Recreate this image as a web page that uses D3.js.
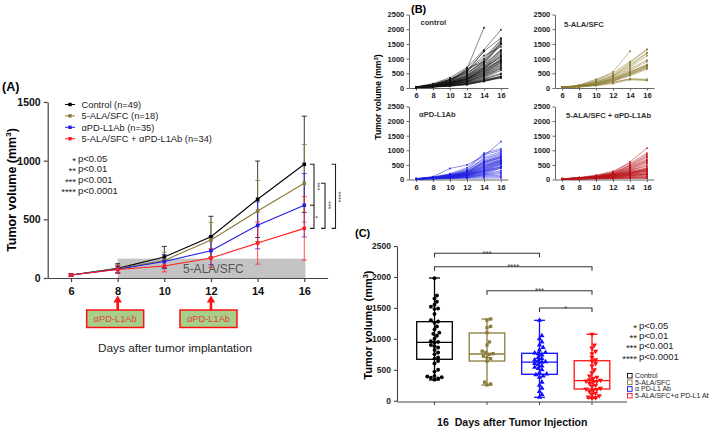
<!DOCTYPE html>
<html><head><meta charset="utf-8">
<script src="https://cdn.jsdelivr.net/npm/d3@7"></script>
<style>body{margin:0;background:#fff} svg{display:block} text{font-family:"Liberation Sans",Arial,sans-serif}</style>
</head><body><svg id="c" width="709" height="428"></svg>
<script>
// ---------------- DATA ----------------
const days = [6, 8, 10, 12, 14, 16];
const legendA = ["Control (n=49)", "5-ALA/SFC (n=18)", "αPD-L1Ab (n=35)", "5-ALA/SFC + αPD-L1Ab (n=34)"];
const meanControl = [25, 82, 179, 352, 671, 969];
const sdControl   = [12, 40, 90, 174, 326, 410];
const meanALA     = [25, 78, 150, 324, 571, 807];
const sdALA       = [10, 35, 70, 150, 260, 330];
const meanPDL1    = [25, 74, 140, 233, 449, 620];
const sdPDL1      = [10, 30, 60, 120, 200, 270];
const meanCombo   = [25, 72, 102, 170, 298, 423];
const sdCombo     = [10, 30, 50, 80, 180, 270];
const pLegend = [["*", "p<0.05"], ["**", "p<0.01"], ["***", "p<0.001"], ["****", "p<0.0001"]];
const yTicksA = [0, 500, 1000, 1500];
const yTicksB = [0, 500, 1000, 1500, 2000, 2500];
const yTicksC = [0, 500, 1000, 1500, 2000, 2500];
const panelBTitles = ["control", "5-ALA/SFC", "αPD-L1Ab", "5-ALA/SFC + αPD-L1Ab"];
const groupsC = ["Control", "5-ALA/SFC", "α PD-L1 Ab", "5-ALA/SFC+α PD-L1 Ab"];

// individual mice, values at days 6..16 (null = no measurement)
const miceControl = [
 [30,120,300,650,2050,null],[40,150,350,700,1300,1980],[30,100,250,550,1250,1700],[20,90,280,600,1000,1650],
 [30,110,260,500,950,1600],[25,80,220,480,900,1550],[35,130,300,520,880,1520],[20,70,200,420,850,1490],
 [30,90,240,450,820,1480],[25,100,210,400,800,1300],[20,60,180,380,760,1280],[30,80,190,420,720,1260],
 [25,70,160,350,700,1200],[20,90,200,380,680,1150],[30,60,170,330,650,1100],[15,80,150,300,640,1080],
 [25,70,180,340,600,1000],[20,50,140,300,620,960],[30,90,160,320,580,950],[20,60,130,280,560,940],
 [25,70,150,290,540,900],[15,50,120,260,520,880],[30,80,170,300,500,860],[20,60,140,250,480,820],
 [25,70,130,240,460,780],[20,50,110,220,440,750],[30,60,120,230,420,700],[15,40,100,200,400,680],
 [20,60,110,210,380,640],[25,50,90,180,350,600],[20,40,100,190,320,500],[15,50,80,160,300,470],
 [20,40,90,150,260,400],[25,50,70,140,280,390],[15,30,80,130,250,380],[20,40,70,120,220,370],
 [10,30,60,110,240,360],[20,40,80,150,230,340],[30,100,260,600,1250,null],[20,80,200,650,900,null],
 [25,120,280,560,1100,1400],[20,70,160,310,700,1050]
];
const miceALA = [
 [20,80,250,550,1250,null],[30,100,300,500,900,1320],[20,90,250,450,850,1300],[25,70,200,400,800,1200],
 [20,60,180,420,750,1180],[30,80,220,380,700,1100],[15,50,150,350,650,950],[20,70,170,330,600,900],
 [25,60,140,300,560,800],[20,50,160,320,540,780],[15,60,130,280,520,760],[20,40,120,260,500,750],
 [25,70,150,300,480,720],[20,50,110,240,460,700],[15,40,100,220,440,680],[20,60,120,250,420,640],
 [20,50,100,200,300,300],[15,40,90,180,320,270],[20,30,80,150,280,254]
];
const micePDL1 = [
 [30,100,380,500,800,1300],[20,80,200,400,900,1050],[25,90,180,350,850,1000],[20,70,150,300,750,950],
 [30,60,170,320,700,900],[15,80,160,280,650,860],[20,50,140,260,600,820],[25,70,130,250,620,780],
 [20,60,120,240,580,770],[15,50,150,230,560,760],[20,70,110,220,540,740],[25,60,130,250,500,700],
 [20,50,100,210,480,680],[15,40,120,200,460,660],[20,60,110,190,440,640],[25,50,100,220,420,630],
 [20,40,90,180,400,620],[15,50,100,170,380,600],[20,60,80,160,360,580],[25,40,90,180,340,560],
 [20,50,70,150,320,540],[15,40,80,160,300,520],[20,30,90,140,280,500],[25,50,70,130,260,450],
 [20,40,60,150,300,430],[15,30,70,120,250,420],[20,40,80,130,220,400],[25,50,60,110,200,380],
 [20,30,50,100,180,300],[15,40,60,90,160,250],[20,30,50,80,150,200],[10,20,40,70,120,150],
 [15,30,40,60,90,100],[10,20,30,40,50,55]
];
const miceCombo = [
 [20,60,130,250,600,1073],[25,70,150,280,550,900],[20,50,120,230,500,850],[15,60,110,220,480,800],
 [20,40,100,200,450,760],[25,50,120,210,420,700],[20,60,90,180,400,660],[15,40,100,190,380,640],
 [20,50,80,170,350,600],[25,40,90,160,330,560],[20,30,100,180,300,500],[15,50,80,150,320,450],
 [20,40,70,140,280,400],[25,30,90,160,260,380],[20,50,80,130,250,360],[15,40,70,150,240,340],
 [20,30,60,120,230,330],[25,40,80,140,220,320],[20,50,70,110,210,310],[15,30,60,130,200,300],
 [20,40,50,100,190,280],[25,30,70,120,180,250],[20,40,60,90,170,230],[15,30,50,100,160,200],
 [20,40,60,80,150,190],[10,30,50,90,140,180],[20,20,40,70,130,170],[15,30,50,80,120,150],
 [10,20,40,60,100,120],[15,30,30,50,90,100],[10,20,30,40,70,80],[15,20,40,50,60,60],
 [10,20,30,30,50,50],[10,10,20,30,40,39]
];
// box statistics at day 16: [min, q1, median, q3, max]
const boxControl = [335, 669, 944, 1277, 1983];
const boxALA     = [254, 641, 755, 1094, 1320];
const boxPDL1    = [55, 427, 625, 766, 1299];
const boxCombo   = [39, 189, 323, 646, 1073];
// significance comparisons [from group index, to group index, label]
const sigC = [[0, 2, "***"], [0, 3, "****"], [1, 3, "***"], [2, 3, "*"]];

// ---------------- STYLE ----------------
const colA = ["#000000", "#8b7b3b", "#1f1fe8", "#ff1f1f"];
const colB = ["#111111", "#8a7a2e", "#2020dd", "#b8141c"];
const colC = ["#000000", "#8b7b3b", "#1010ff", "#ff1010"];
const svg = d3.select("#c");
const fmt = d3.format("d");

// ================= PANEL A =================
const A = svg.append("g");
const xA = d3.scaleLinear().domain([5, 17]).range([47.7, 327.6]);
const yA = d3.scaleLinear().domain([0, 1500]).range([278, 102]);
const means = [meanControl, meanALA, meanPDL1, meanCombo];
const sds = [sdControl, sdALA, sdPDL1, sdCombo];

A.append("text").attr("x", 2).attr("y", 91).attr("font-size", 12.5).attr("font-weight", "bold").text("(A)");

// grey treatment band
A.append("rect").attr("x", xA(8)).attr("y", yA(165)).attr("width", xA(16.05) - xA(8))
 .attr("height", yA(0) - yA(165)).attr("fill", "#c3c3c3");
A.append("text").attr("x", xA(12.1)).attr("y", 273).attr("text-anchor", "middle")
 .attr("font-size", 12).attr("fill", "#555").text("5-ALA/SFC");

// axes
const axA = A.append("g").attr("transform", "translate(0,278)")
 .call(d3.axisBottom(xA).tickValues(days).tickSize(4).tickSizeOuter(0).tickFormat(fmt));
axA.selectAll("text").attr("font-size", 11).attr("font-weight", "bold").attr("dy", "0.95em").attr("fill", "#111");
const ayA = A.append("g").attr("transform", "translate(47.7,0)")
 .call(d3.axisLeft(yA).tickValues(yTicksA).tickSize(4).tickSizeOuter(0).tickFormat(fmt));
ayA.selectAll("text").attr("font-size", 10.5).attr("font-weight", "bold").attr("fill", "#111");
[axA, ayA].forEach(g => g.selectAll("path,line").attr("stroke", "#444").attr("stroke-width", 1.2));
A.append("text").attr("transform", "translate(16,190) rotate(-90)").attr("text-anchor", "middle")
 .attr("font-size", 12.5).attr("font-weight", "bold").html("Tumor volume (mm<tspan dy='-5' font-size='8'>3</tspan><tspan dy='5'>)</tspan>");

// error bars + lines
means.forEach((m, gi) => {
  const c = colA[gi];
  days.forEach((d, i) => {
    const x = xA(d), y1 = yA(m[i] + sds[gi][i]), y2 = yA(Math.max(0, m[i] - sds[gi][i]));
    A.append("line").attr("x1", x).attr("x2", x).attr("y1", y1).attr("y2", y2).attr("stroke", c).attr("stroke-width", 0.9).attr("opacity", 0.85);
    [y1, y2].forEach(yy => A.append("line").attr("x1", x - 2.5).attr("x2", x + 2.5).attr("y1", yy).attr("y2", yy).attr("stroke", c).attr("stroke-width", 0.9).attr("opacity", 0.85));
  });
});
means.forEach((m, gi) => {
  const c = colA[gi];
  A.append("path").datum(days.map((d, i) => [d, m[i]]))
   .attr("d", d3.line().x(p => xA(p[0])).y(p => yA(p[1]))).attr("fill", "none").attr("stroke", c).attr("stroke-width", 1.1);
  days.forEach((d, i) => A.append("rect").attr("x", xA(d) - 1.8).attr("y", yA(m[i]) - 1.8).attr("width", 3.6).attr("height", 3.6).attr("fill", c));
});

// legend
legendA.forEach((t, i) => {
  const y = 104.5 + i * 11.4;
  A.append("line").attr("x1", 65).attr("x2", 75).attr("y1", y).attr("y2", y).attr("stroke", colA[i]).attr("stroke-width", 1);
  A.append("rect").attr("x", 68.3).attr("y", y - 1.7).attr("width", 3.4).attr("height", 3.4).attr("fill", colA[i]);
  A.append("text").attr("x", 81.5).attr("y", y + 3.3).attr("font-size", 9.3).attr("fill", "#222").text(t);
});
pLegend.forEach((p, i) => {
  const y = 158.5 + i * 10.6;
  A.append("text").attr("x", 76).attr("y", y + 5).attr("text-anchor", "end").attr("font-size", 9.5).attr("fill", "#222").text(p[0]);
  A.append("text").attr("x", 78).attr("y", y + 3.3).attr("font-size", 9.5).attr("fill", "#222").text(p[1]);
});

// significance brackets at day 16
function bracketV(xv, v1, v2, mid) {
  const yt = yA(v1), yb = yA(v2);
  A.append("path").attr("d", `M${xv - 4},${yt}H${xv}V${yb}H${xv - 4}`).attr("fill", "none").attr("stroke", "#222").attr("stroke-width", 1.1);
  if (mid !== undefined) A.append("path").attr("d", `M${xv - 4},${yA(mid)}H${xv}`).attr("stroke", "#222").attr("stroke-width", 1.1);
}
bracketV(314, meanControl[5], meanCombo[5], meanPDL1[5]);
bracketV(325, meanALA[5], meanCombo[5]);
bracketV(335.5, meanControl[5], meanCombo[5]);
function rotLabel(x, v, label) {
  A.append("text").attr("transform", `translate(${x},${yA(v)}) rotate(90)`).attr("text-anchor", "middle")
   .attr("font-size", 7).attr("fill", "#333").text(label);
}
rotLabel(314.5, 780, "***");
rotLabel(312.5, 520, "*");
rotLabel(325.5, 620, "***");
rotLabel(336, 690, "****");

// antibody injection arrows
[8, 12].forEach(d => {
  const x = xA(d);
  A.append("line").attr("x1", x).attr("x2", x).attr("y1", 310).attr("y2", 301).attr("stroke", "#ff1010").attr("stroke-width", 2.6);
  A.append("path").attr("d", `M${x - 4.2},${302.5}L${x + 4.2},${302.5}L${x},${295.5}Z`).attr("fill", "#ff1010");
  A.append("rect").attr("x", x - 31).attr("y", 310).attr("width", 57).attr("height", 17.5)
   .attr("fill", "#a6cf8a").attr("stroke", "#ff1010").attr("stroke-width", 1.5);
  A.append("text").attr("x", x - 2.5).attr("y", 322.3).attr("text-anchor", "middle").attr("font-size", 9.3)
   .attr("fill", "#e5403a").text("αPD-L1Ab");
});
A.append("text").attr("x", 98).attr("y", 352).attr("font-size", 11.8).attr("fill", "#222").text("Days after tumor implantation");

// ================= PANEL B =================
const B = svg.append("g");
B.append("text").attr("x", 411).attr("y", 12.5).attr("font-size", 11).attr("font-weight", "bold").text("(B)");
B.append("text").attr("transform", "translate(381,97) rotate(-90)").attr("text-anchor", "middle")
 .attr("font-size", 8.6).attr("font-weight", "bold").html("Tumor volume (mm<tspan dy='-3.5' font-size='6'>3</tspan><tspan dy='3.5'>)</tspan>");
const miceAll = [miceControl, miceALA, micePDL1, miceCombo];
const layoutB = [[409, 88, 14.5], [555, 88, 14.5], [409, 179.5, 106.5], [555, 179.5, 106.5]];
const titleB = [[420.5, 25], [564, 26.5], [419, 117], [566, 118]];
miceAll.forEach((mice, gi) => {
  const [ox, y0, yt] = layoutB[gi];
  const x = d3.scaleLinear().domain([5.17, 16.83]).range([ox, ox + 99]);
  const y = d3.scaleLinear().domain([0, 2500]).range([y0, yt]);
  const g = B.append("g");
  const ax = g.append("g").attr("transform", `translate(0,${y0})`)
   .call(d3.axisBottom(x).tickValues(days).tickSize(2.5).tickSizeOuter(0).tickFormat(fmt));
  ax.selectAll("text").attr("font-size", 7.5).attr("font-weight", "bold").attr("dy", "0.6em").attr("fill", "#222");
  const ay = g.append("g").attr("transform", `translate(${ox},0)`)
   .call(d3.axisLeft(y).tickValues(yTicksB).tickSize(2.5).tickSizeOuter(0).tickFormat(fmt));
  ay.selectAll("text").attr("font-size", 7.5).attr("font-weight", "bold").attr("dx", "0.1em").attr("fill", "#222");
  [ax, ay].forEach(a => a.selectAll("path,line").attr("stroke", "#666").attr("stroke-width", 1));
  const line = d3.line().defined(v => v[1] !== null).x(v => x(v[0])).y(v => y(v[1]));
  mice.forEach(m => {
    const pts = days.map((d, i) => [d, m[i]]);
    g.append("path").datum(pts).attr("d", line).attr("fill", "none").attr("stroke", colB[gi]).attr("stroke-width", 0.6).attr("opacity", 0.85);
    pts.filter(p => p[1] !== null).forEach(p => g.append("circle").attr("cx", x(p[0])).attr("cy", y(p[1])).attr("r", 0.9).attr("fill", colB[gi]));
  });
  B.append("text").attr("x", titleB[gi][0]).attr("y", titleB[gi][1]).attr("font-size", 7.6).attr("font-weight", "bold")
   .attr("fill", "#333").text(panelBTitles[gi]);
});

// ================= PANEL C =================
const C = svg.append("g");
C.append("text").attr("x", 355).attr("y", 236.5).attr("font-size", 11).attr("font-weight", "bold").text("(C)");
const yC = d3.scaleLinear().domain([0, 2500]).range([400.7, 246]);
const xC = d3.scalePoint().domain(groupsC).range([434.5, 592]);
C.append("line").attr("x1", 397).attr("x2", 627).attr("y1", 402).attr("y2", 402).attr("stroke", "#444").attr("stroke-width", 1.1);
groupsC.forEach(gname => C.append("line").attr("x1", xC(gname)).attr("x2", xC(gname)).attr("y1", 402).attr("y2", 405).attr("stroke", "#444"));
const ayC = C.append("g").attr("transform", "translate(397,0)")
 .call(d3.axisLeft(yC).tickValues(yTicksC).tickSize(3).tickSizeOuter(0).tickFormat(fmt));
ayC.selectAll("text").attr("font-size", 8.5).attr("font-weight", "bold").attr("fill", "#222");
ayC.selectAll("path,line").attr("stroke", "#444").attr("stroke-width", 1.1);
C.append("text").attr("transform", "translate(372,325) rotate(-90)").attr("text-anchor", "middle")
 .attr("font-size", 11).attr("font-weight", "bold").html("Tumor volume (mm<tspan dy='-4.5' font-size='7.5'>3</tspan><tspan dy='4.5'>)</tspan>");

const boxes = [boxControl, boxALA, boxPDL1, boxCombo];
const bw = 35.6;
const symbols = [d3.symbolCircle, d3.symbolSquare, d3.symbolTriangle, d3.symbolTriangle];
boxes.forEach((b, gi) => {
  const cx = xC(groupsC[gi]), c = colC[gi];
  const g = C.append("g").attr("stroke", c).attr("fill", "none").attr("stroke-width", 1.3);
  g.append("line").attr("x1", cx).attr("x2", cx).attr("y1", yC(b[4])).attr("y2", yC(b[0]));
  g.append("line").attr("x1", cx - 5.5).attr("x2", cx + 5.5).attr("y1", yC(b[4])).attr("y2", yC(b[4]));
  g.append("line").attr("x1", cx - 5.5).attr("x2", cx + 5.5).attr("y1", yC(b[0])).attr("y2", yC(b[0]));
  g.append("rect").attr("x", cx - bw / 2).attr("y", yC(b[3])).attr("width", bw).attr("height", yC(b[1]) - yC(b[3])).attr("fill", "none");
  g.append("line").attr("x1", cx - bw / 2).attr("x2", cx + bw / 2).attr("y1", yC(b[2])).attr("y2", yC(b[2]));
  // points = day-16 values of each mouse, arranged as a swarm
  const vals = miceAll[gi].map(m => m[5]).filter(v => v !== null).sort((a, b) => a - b);
  const placed = [], dmin = 3.5;
  vals.forEach(v => {
    const py = yC(v);
    let off = 0;
    for (let k = 0; k < 30; k++) {
      const o = (k % 2 ? 1 : -1) * Math.ceil(k / 2) * 1.2;
      if (placed.every(p => Math.hypot(p[0] - o, p[1] - py) >= dmin)) { off = o; break; }
    }
    placed.push([off, py]);
    const sym = d3.symbol().type(symbols[gi]).size(gi === 1 ? 11 : 12);
    C.append("path").attr("d", sym).attr("fill", c)
     .attr("transform", `translate(${cx + off},${py})` + (gi === 3 ? " rotate(180)" : ""));
  });
});
// significance brackets
const sigY = [253.3, 266.7, 290.7, 308];
sigC.forEach((s, i) => {
  const x1 = xC(groupsC[s[0]]), x2 = xC(groupsC[s[1]]), y = sigY[i];
  C.append("path").attr("d", `M${x1},${y + 4}V${y}H${x2}V${y + 4}`).attr("fill", "none").attr("stroke", "#333").attr("stroke-width", 1.1);
  C.append("text").attr("x", (x1 + x2) / 2).attr("y", y + 2.5).attr("text-anchor", "middle").attr("font-size", 7.5).attr("fill", "#333").text(s[2]);
});
pLegend.forEach((p, i) => {
  const y = 325.7 + i * 10.2;
  C.append("text").attr("x", 637).attr("y", y + 5.2).attr("text-anchor", "end").attr("font-size", 9.5).attr("fill", "#222").text(p[0]);
  C.append("text").attr("x", 639).attr("y", y + 3.3).attr("font-size", 9.5).attr("fill", "#222").text(p[1]);
});
groupsC.forEach((t, i) => {
  const y = 375.7 + i * 6.65;
  C.append("rect").attr("x", 627.5).attr("y", y - 2.3).attr("width", 4.6).attr("height", 4.6).attr("fill", "#fff").attr("stroke", colC[i]).attr("stroke-width", 0.9);
  C.append("text").attr("x", 635).attr("y", y + 2.4).attr("font-size", 7).attr("fill", "#222").text(t);
});
C.append("text").attr("x", 437).attr("y", 425.5).attr("font-size", 10.6).attr("font-weight", "bold").attr("fill", "#111")
 .attr("xml:space", "preserve").text("16  Days after Tumor Injection");
</script></body></html>
